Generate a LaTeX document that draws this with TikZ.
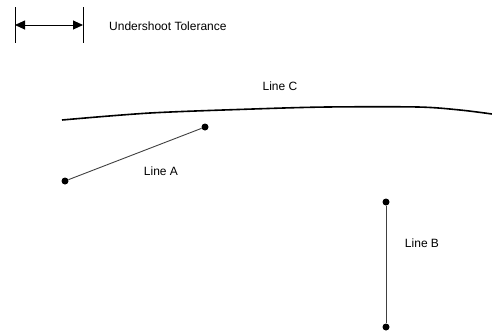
\documentclass[tikz,border=0pt]{standalone}
\usepackage{fontspec}
\setmainfont{Liberation Sans}
\usetikzlibrary{arrows.meta}
\begin{document}
\begin{tikzpicture}[x=1pt,y=-1pt,
  lbl/.style={inner sep=0pt,font=\fontsize{12}{14}\selectfont},
  dot/.style={circle,fill=black,inner sep=0pt,minimum size=7pt},
  seg/.style={draw=black!75,line width=0.9pt},
  bar/.style={line width=0.9pt}]
\useasboundingbox (0,0) rectangle (492,333);
% tolerance marker
\coordinate (t1a) at (15,7);
\coordinate (t1b) at (15,43);
\coordinate (t2a) at (83,7);
\coordinate (t2b) at (83,43);
\coordinate (ta) at (15,25);
\coordinate (tb) at (83,25);
\draw[bar] (t1a) -- (t1b);
\draw[bar] (t2a) -- (t2b);
\draw[line width=0.9pt,{Triangle[length=10pt,width=9pt]}-{Triangle[length=10pt,width=9pt]}] (ta) -- (tb);
\node[lbl,anchor=west] (tol) at (109,26) {Undershoot Tolerance};
% Line C
\draw[line width=1.6pt] plot[smooth,tension=0.5] coordinates {(62,120) (150,113) (253,109) (327,107) (418,107) (460,110) (492,114)};
\node[lbl] (lc) at (280,86) {Line C};
% Line A
\node[dot] (a1) at (65,181) {};
\node[dot] (a2) at (205,127) {};
\draw[seg] (a1) -- (a2);
\node[lbl] (la) at (161,171) {Line A};
% Line B
\node[dot] (b1) at (386,202) {};
\node[dot] (b2) at (386,327) {};
\draw[seg] (b1) -- (b2);
\node[lbl] (lb) at (422,243) {Line B};
\end{tikzpicture}
\end{document}
